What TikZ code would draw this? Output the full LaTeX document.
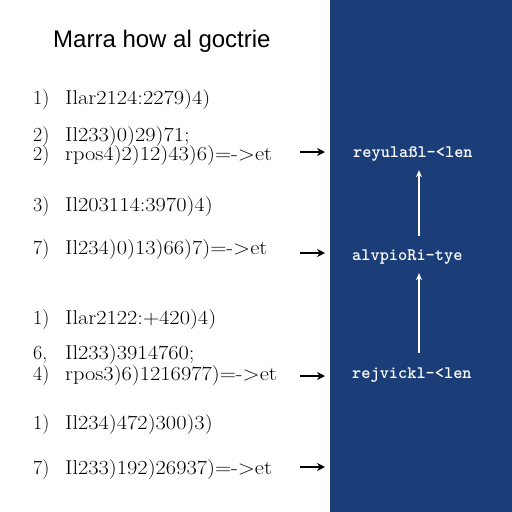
\documentclass[tikz,border=0pt]{standalone}
\usepackage{fontspec}
\setsansfont{Liberation Sans}
\usepackage{xcolor}
\usetikzlibrary{arrows.meta}

\newcommand{\widerow}[1]{\scalebox{1.12}[1]{#1}}

\begin{document}
\begin{tikzpicture}[x=1pt,y=-1pt,
  rownode/.style={anchor=base west,inner sep=0,font=\fontsize{20}{24}\selectfont},
  panelnode/.style={anchor=base west,inner sep=0,text=white,font=\ttfamily\bfseries\fontsize{17.5}{21}\selectfont},
  blackarrow/.style={-{Stealth[length=8pt,width=8pt]},line width=2.2pt},
  whitearrow/.style={-{Stealth[length=7pt,width=6pt]},white,line width=1.2pt}]
\definecolor{panelblue}{HTML}{1C3E78}
\useasboundingbox (0,0) rectangle (512,512);
\fill[panelblue] (330,0) rectangle (512,512);
\node[anchor=base west,inner sep=0,font=\sffamily\fontsize{24}{28}\selectfont] (title) at (53,47) {Marra how al goctrie};
  \foreach \nm/\num/\txt/\ypos in {1/1)/Ilar2124:2279)4)/104, 2/2)/Il233)0)29)71;/141,
    3/2)/rpos4)2)12)43)6)=->et/160, 4/3)/Il203114:3970)4)/211, 5/7)/Il234)0)13)66)7)=->et/254,
    6/1)/Ilar2122:+420)4)/324, 7/{6,}/Il233)3914760;/359, 8/4)/rpos3)6)1216977)=->et/380,
    9/1)/Il234)472)300)3)/429, 10/7)/Il233)192)26937)=->et/474}
  {  \node [rownode] (n\nm) at (33,\ypos) {\num};
     \node [rownode] (t\nm) at (65,\ypos) {\widerow{\txt}};}
\node[panelnode] (reyu) at (353,157) {reyulaßl-<len};
\node[panelnode] (alvp) at (352,260) {alvpioRi-tye};
\node[panelnode] (rejv) at (352,378) {rejvickl-<len};
\coordinate (upx) at (419,0);
\draw[whitearrow,shorten <=13pt,shorten >=9pt] (alvp.north -| upx) -- (reyu.south -| upx);
\draw[whitearrow,shorten <=14pt,shorten >=9pt] (rejv.north -| upx) -- (alvp.south -| upx);
  \foreach \nm/\ypos in {1/152,2/253,3/376,4/467}
  {  \coordinate (s\nm) at (300,\ypos);
     \coordinate (e\nm) at (325,\ypos);
     \draw[blackarrow] (s\nm) -- (e\nm);}
\end{tikzpicture}
\end{document}
